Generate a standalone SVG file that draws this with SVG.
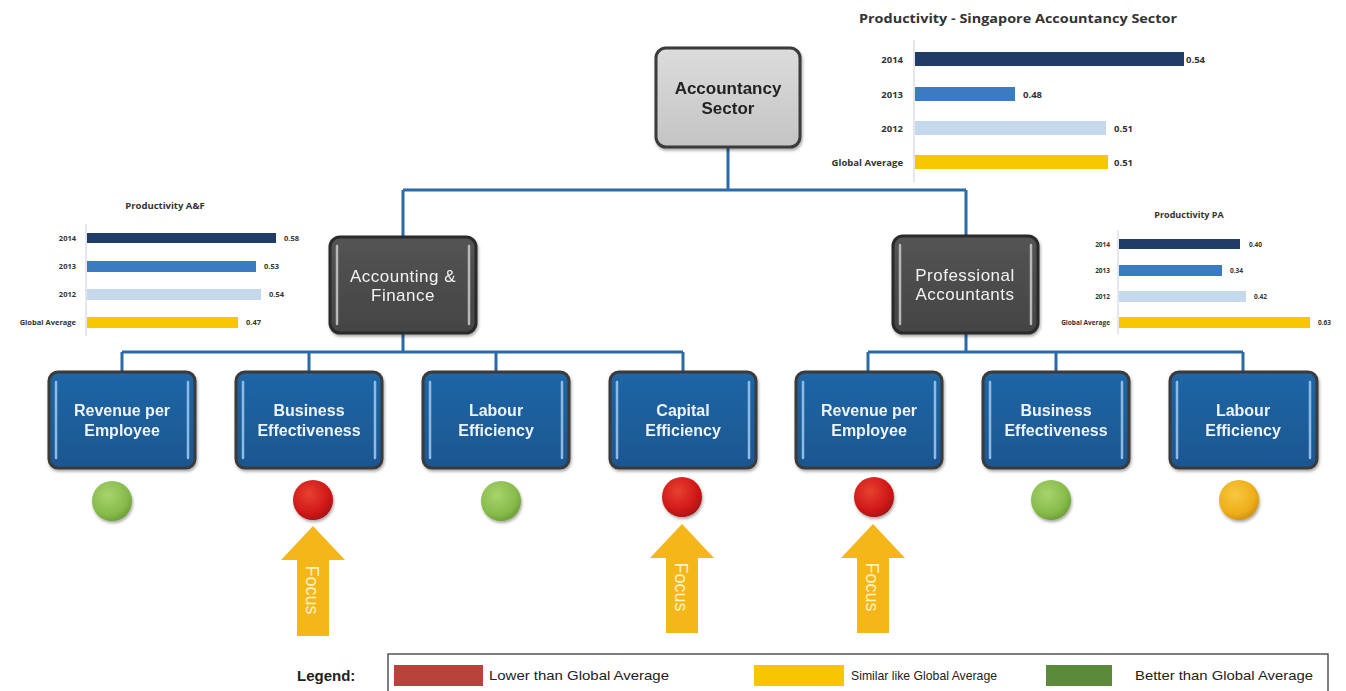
<svg xmlns="http://www.w3.org/2000/svg" width="1346" height="691" viewBox="0 0 1346 691">
<style>
.conn{stroke:#2a6aa6;stroke-width:3;fill:none}
.blue{fill:url(#gBlue);stroke:#3a3a3a;stroke-width:3}
.dark{fill:url(#gDark);stroke:#2b2b2b;stroke-width:3}
.hlb{stroke:#8fbbe3;stroke-width:2.5;stroke-linecap:round}
.hld{stroke:#b8b8b8;stroke-width:2.5;stroke-linecap:round}
.bt{font-family:"Liberation Sans",Arial,sans-serif;font-weight:bold;font-size:16px;fill:#eef3f9;text-anchor:middle}
.dt{font-family:"Liberation Sans",Arial,sans-serif;font-size:17px;fill:#f2f2f2;text-anchor:middle;letter-spacing:0.5px}
.ct{font-family:"Open Sans","Liberation Sans",sans-serif;font-weight:bold;fill:#333}
.ft{font-family:"Liberation Sans",Arial,sans-serif;font-size:18px;fill:#fdf3c4;text-anchor:middle}
.lt{font-family:"Liberation Sans",Arial,sans-serif;font-size:13px;fill:#222}
.arrow{fill:#f4b619}
</style>
<defs>
<linearGradient id="gBlue" x1="0" y1="0" x2="0" y2="1"><stop offset="0" stop-color="#2066a6"/><stop offset="1" stop-color="#1a5690"/></linearGradient>
<linearGradient id="gDark" x1="0" y1="0" x2="0" y2="1"><stop offset="0" stop-color="#545454"/><stop offset="1" stop-color="#444"/></linearGradient>
<linearGradient id="gGray" x1="0" y1="0" x2="0" y2="1"><stop offset="0" stop-color="#dcdcdc"/><stop offset="1" stop-color="#c4c4c4"/></linearGradient>
<radialGradient id="gGreen" cx="0.4" cy="0.35" r="0.7"><stop offset="0" stop-color="#a8d36e"/><stop offset="0.7" stop-color="#86bb4a"/><stop offset="1" stop-color="#6a9c34"/></radialGradient>
<radialGradient id="gRed" cx="0.4" cy="0.35" r="0.7"><stop offset="0" stop-color="#e84030"/><stop offset="0.7" stop-color="#d01818"/><stop offset="1" stop-color="#a01010"/></radialGradient>
<radialGradient id="gYel" cx="0.4" cy="0.35" r="0.7"><stop offset="0" stop-color="#f8c840"/><stop offset="0.7" stop-color="#eeae1a"/><stop offset="1" stop-color="#cc8e10"/></radialGradient>
<filter id="sh" x="-10%" y="-10%" width="125%" height="130%"><feDropShadow dx="1" dy="2" stdDeviation="1.5" flood-color="#000" flood-opacity="0.35"/></filter>
</defs>

<g id="connectors">
<path class="conn" d="M728 148V190M403 190H966M403 190V237M966 190V236"/>
<path class="conn" d="M403 334V352M122 352H683M122 352V372M309 352V372M496 352V372M683 352V372"/>
<path class="conn" d="M966 333V352M868 352H1243M868 352V372M1056 352V372M1243 352V372"/>
</g>

<g id="node-accountancy" filter="url(#sh)">
<rect x="656" y="48" width="144" height="99" rx="10" fill="url(#gGray)" stroke="#3a3a3a" stroke-width="3"/>
<text x="728" y="94" font-family="Liberation Sans,Arial,sans-serif" font-weight="bold" font-size="17" fill="#222" text-anchor="middle">Accountancy</text>
<text x="728" y="114" font-family="Liberation Sans,Arial,sans-serif" font-weight="bold" font-size="17" fill="#222" text-anchor="middle">Sector</text>
</g>

<g id="node-af" filter="url(#sh)">
<rect class="dark" x="330" y="237" width="146" height="96" rx="10"/>
<line class="hld" x1="337" y1="246" x2="337" y2="324"/><line class="hld" x1="469" y1="246" x2="469" y2="324"/>
<text class="dt" x="403" y="282">Accounting &amp;</text>
<text class="dt" x="403" y="301">Finance</text>
</g>

<g id="node-pa" filter="url(#sh)">
<rect class="dark" x="893" y="236" width="145" height="97" rx="10"/>
<line class="hld" x1="900" y1="245" x2="900" y2="324"/><line class="hld" x1="1031" y1="245" x2="1031" y2="324"/>
<text class="dt" x="965" y="281">Professional</text>
<text class="dt" x="965" y="300">Accountants</text>
</g>

<g id="node-af-rev" filter="url(#sh)">
<rect class="blue" x="49" y="372" width="146" height="96" rx="9"/>
<line class="hlb" x1="56" y1="382" x2="56" y2="458"/><line class="hlb" x1="188" y1="382" x2="188" y2="458"/>
<text class="bt" x="122" y="416">Revenue per</text><text class="bt" x="122" y="436">Employee</text>
</g>
<g id="node-af-bus" filter="url(#sh)">
<rect class="blue" x="236" y="372" width="146" height="96" rx="9"/>
<line class="hlb" x1="243" y1="382" x2="243" y2="458"/><line class="hlb" x1="375" y1="382" x2="375" y2="458"/>
<text class="bt" x="309" y="416">Business</text><text class="bt" x="309" y="436">Effectiveness</text>
</g>
<g id="node-af-lab" filter="url(#sh)">
<rect class="blue" x="423" y="372" width="146" height="96" rx="9"/>
<line class="hlb" x1="430" y1="382" x2="430" y2="458"/><line class="hlb" x1="562" y1="382" x2="562" y2="458"/>
<text class="bt" x="496" y="416">Labour</text><text class="bt" x="496" y="436">Efficiency</text>
</g>
<g id="node-af-cap" filter="url(#sh)">
<rect class="blue" x="610" y="372" width="146" height="96" rx="9"/>
<line class="hlb" x1="617" y1="382" x2="617" y2="458"/><line class="hlb" x1="749" y1="382" x2="749" y2="458"/>
<text class="bt" x="683" y="416">Capital</text><text class="bt" x="683" y="436">Efficiency</text>
</g>
<g id="node-pa-rev" filter="url(#sh)">
<rect class="blue" x="796" y="372" width="146" height="96" rx="9"/>
<line class="hlb" x1="803" y1="382" x2="803" y2="458"/><line class="hlb" x1="935" y1="382" x2="935" y2="458"/>
<text class="bt" x="869" y="416">Revenue per</text><text class="bt" x="869" y="436">Employee</text>
</g>
<g id="node-pa-bus" filter="url(#sh)">
<rect class="blue" x="983" y="372" width="146" height="96" rx="9"/>
<line class="hlb" x1="990" y1="382" x2="990" y2="458"/><line class="hlb" x1="1122" y1="382" x2="1122" y2="458"/>
<text class="bt" x="1056" y="416">Business</text><text class="bt" x="1056" y="436">Effectiveness</text>
</g>
<g id="node-pa-lab" filter="url(#sh)">
<rect class="blue" x="1170" y="372" width="147" height="96" rx="9"/>
<line class="hlb" x1="1177" y1="382" x2="1177" y2="458"/><line class="hlb" x1="1310" y1="382" x2="1310" y2="458"/>
<text class="bt" x="1243" y="416">Labour</text><text class="bt" x="1243" y="436">Efficiency</text>
</g>

<g id="indicators" filter="url(#sh)">
<circle cx="112" cy="501" r="20" fill="url(#gGreen)"/>
<circle cx="313" cy="500" r="20" fill="url(#gRed)"/>
<circle cx="501" cy="501" r="20" fill="url(#gGreen)"/>
<circle cx="682" cy="497" r="20" fill="url(#gRed)"/>
<circle cx="874" cy="497" r="20" fill="url(#gRed)"/>
<circle cx="1051" cy="500" r="20" fill="url(#gGreen)"/>
<circle cx="1239" cy="500" r="20" fill="url(#gYel)"/>
</g>

<g id="focus-1">
<path class="arrow" d="M313 526L345 560H329V636H297V560H281Z"/>
<text class="ft" transform="translate(312 590) rotate(90)" y="6">Focus</text>
</g>
<g id="focus-2">
<path class="arrow" d="M682 524L714 558H698V633H666V558H650Z"/>
<text class="ft" transform="translate(681 587) rotate(90)" y="6">Focus</text>
</g>
<g id="focus-3">
<path class="arrow" d="M873 524L905 558H889V633H857V558H841Z"/>
<text class="ft" transform="translate(872 587) rotate(90)" y="6">Focus</text>
</g>

<g id="chart-sector">
<text class="ct" x="1018" y="23" font-size="12.5" text-anchor="middle" textLength="318" lengthAdjust="spacingAndGlyphs">Productivity - Singapore Accountancy Sector</text>
<line x1="914" y1="40" x2="914" y2="182" stroke="#ccd" stroke-width="1"/>
<rect x="915" y="52" width="269" height="14" fill="#1f3d66"/>
<rect x="915" y="87" width="100" height="14" fill="#3a7bc2"/>
<rect x="915" y="121" width="191" height="14" fill="#c6d8ec"/>
<rect x="915" y="155" width="193" height="14" fill="#f7c800"/>
<g font-size="9.5" text-anchor="end" class="ct">
<text class="ct" x="903" y="63">2014</text><text class="ct" x="903" y="98">2013</text><text class="ct" x="903" y="132">2012</text><text class="ct" x="903" y="166">Global Average</text>
</g>
<g font-size="9.5" class="ct">
<text class="ct" x="1186" y="63">0.54</text><text class="ct" x="1023" y="98">0.48</text><text class="ct" x="1114" y="132">0.51</text><text class="ct" x="1114" y="166">0.51</text>
</g>
</g>

<g id="chart-af">
<text class="ct" x="165" y="209" font-size="9.5" text-anchor="middle">Productivity A&amp;F</text>
<line x1="86" y1="224" x2="86" y2="336" stroke="#ccd" stroke-width="1"/>
<rect x="87" y="233" width="189" height="10" fill="#1f3d66"/>
<rect x="87" y="261" width="169" height="11" fill="#3a7bc2"/>
<rect x="87" y="289" width="174" height="11" fill="#c6d8ec"/>
<rect x="87" y="317" width="151" height="11" fill="#f7c800"/>
<g font-size="7.5" text-anchor="end" class="ct">
<text class="ct" x="76" y="241">2014</text><text class="ct" x="76" y="269">2013</text><text class="ct" x="76" y="297">2012</text><text class="ct" x="76" y="325">Global Average</text>
</g>
<g font-size="7.5" class="ct">
<text class="ct" x="284" y="241">0.58</text><text class="ct" x="264" y="269">0.53</text><text class="ct" x="269" y="297">0.54</text><text class="ct" x="246" y="325">0.47</text>
</g>
</g>

<g id="chart-pa">
<text class="ct" x="1189" y="218" font-size="9" text-anchor="middle">Productivity PA</text>
<line x1="1118" y1="230" x2="1118" y2="334" stroke="#ccd" stroke-width="1"/>
<rect x="1119" y="239" width="121" height="10" fill="#1f3d66"/>
<rect x="1119" y="265" width="103" height="11" fill="#3a7bc2"/>
<rect x="1119" y="291" width="127" height="11" fill="#c6d8ec"/>
<rect x="1119" y="317" width="191" height="11" fill="#f7c800"/>
<g font-size="6.5" text-anchor="end" class="ct">
<text class="ct" x="1110" y="247">2014</text><text class="ct" x="1110" y="273">2013</text><text class="ct" x="1110" y="299">2012</text><text class="ct" x="1110" y="325">Global Average</text>
</g>
<g font-size="6.5" class="ct">
<text class="ct" x="1249" y="247">0.40</text><text class="ct" x="1230" y="273">0.34</text><text class="ct" x="1254" y="299">0.42</text><text class="ct" x="1318" y="325">0.63</text>
</g>
</g>

<g id="legend">
<text x="297" y="681" font-family="Liberation Sans,Arial,sans-serif" font-weight="bold" font-size="15" fill="#222">Legend:</text>
<rect x="388" y="654" width="940" height="45" fill="#fff" stroke="#555" stroke-width="1.5"/>
<rect x="394" y="665" width="89" height="21" fill="#b8433a"/>
<text class="lt" x="489" y="680" textLength="180" lengthAdjust="spacingAndGlyphs">Lower than Global Average</text>
<rect x="754" y="665" width="90" height="21" fill="#f7c600"/>
<text class="lt" x="851" y="680" textLength="146" lengthAdjust="spacingAndGlyphs">Similar like Global Average</text>
<rect x="1046" y="665" width="66" height="21" fill="#5b8a3b"/>
<text class="lt" x="1135" y="680" textLength="178" lengthAdjust="spacingAndGlyphs">Better than Global Average</text>
</g>
</svg>
